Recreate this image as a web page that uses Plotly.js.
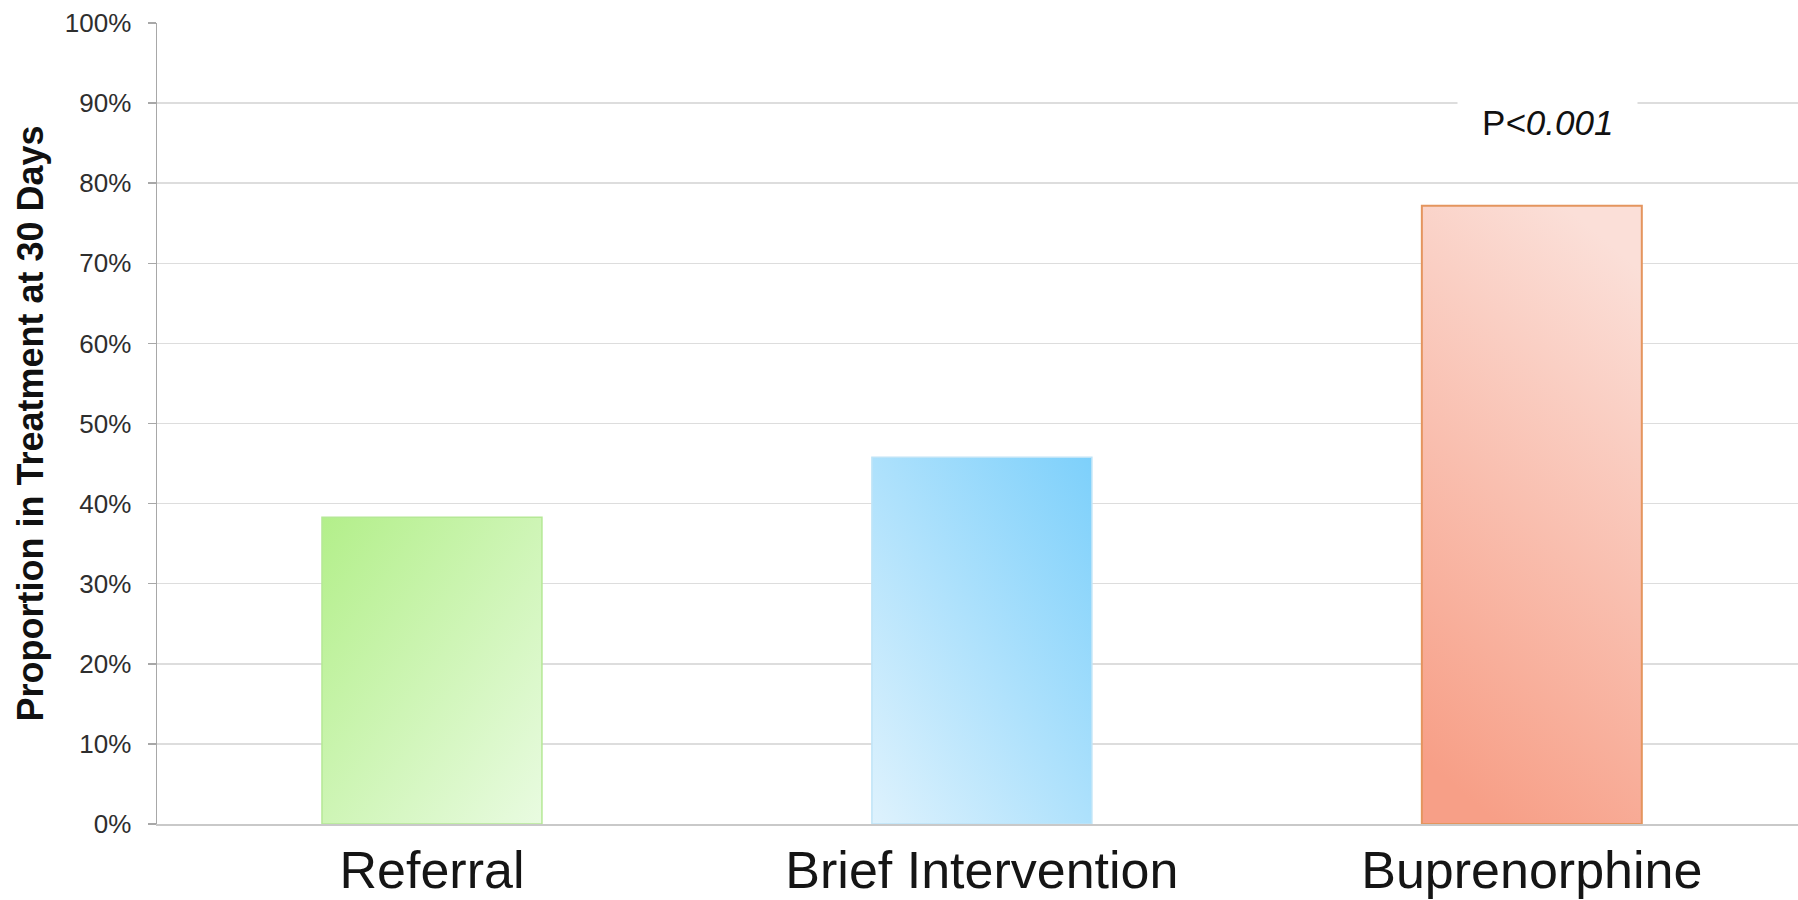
<!DOCTYPE html>
<html>
<head>
<meta charset="utf-8">
<script src="https://cdn.plot.ly/plotly-3.0.1.min.js"></script>
<style>
  html, body { margin: 0; padding: 0; background: #ffffff; }
  #chart { width: 1798px; height: 900px; }
</style>
</head>
<body>
<div id="chart"></div>
<script>
// ---- Data ----
const categories = ["Referral", "Brief Intervention", "Buprenorphine"];
const proportions = [0.383, 0.458, 0.772];
const yTitle = "Proportion in Treatment at 30 Days";
const pValueLabel = "P<i>&lt;0.001</i>";
const pValueCategory = "Buprenorphine";
const pValueY = 0.876;

// ---- Styles ----
const baseColors = ["#ccf4b0", "#ade0fb", "#f8bcab"];
const borderColors = ["#b5e896", "#bfe4f7", "#e4955e"];
const borderWidths = [1.5, 1.5, 2];
const gradients = [
  { x1: 0, y1: 0, x2: 1, y2: 1, stops: [["0%", "#b3ef8a"], ["100%", "#e9fbe1"]] },
  { x1: 0, y1: 1, x2: 1, y2: 0, stops: [["0%", "#def2fd"], ["100%", "#7dd0fb"]] },
  { x1: 0.35, y1: 1, x2: 0.65, y2: 0, stops: [["0%", "#f79f87"], ["100%", "#fbdfd8"]] }
];

// pick a condensed face for the category labels when one is installed
function fontAvailable(name) {
  const c = document.createElement("canvas").getContext("2d");
  const sample = "Brief Intervention 0123";
  c.font = "50px monospace";
  const w0 = c.measureText(sample).width;
  c.font = '50px "' + name + '", monospace';
  return c.measureText(sample).width !== w0;
}
const catFont = fontAvailable("Liberation Sans Narrow")
  ? { family: "Liberation Sans Narrow", size: 60, color: "#151515" }
  : { family: "Liberation Sans, Arial, sans-serif", size: 52, color: "#151515" };

const data = [{
  type: "bar",
  x: categories,
  y: proportions,
  width: 0.4,
  marker: {
    color: baseColors,
    line: { color: borderColors, width: borderWidths }
  },
  hoverinfo: "x+y"
}];

const layout = {
  width: 1798,
  height: 900,
  margin: { l: 157, r: 0, t: 23, b: 76 },
  paper_bgcolor: "#ffffff",
  plot_bgcolor: "#ffffff",
  showlegend: false,
  font: { family: "Liberation Sans, Arial, sans-serif", color: "#333333" },
  xaxis: {
    type: "category",
    range: [-0.5, 2.484],
    showgrid: false,
    showline: true,
    linecolor: "#c9c9c9",
    linewidth: 1.5,
    ticks: "",
    tickfont: catFont,
    ticklabelstandoff: 0,
    zeroline: false,
    automargin: false,
    fixedrange: true
  },
  yaxis: {
    range: [0, 1],
    dtick: 0.1,
    tick0: 0,
    tickformat: ".0%",
    showgrid: true,
    gridcolor: "#dddddd",
    gridwidth: 1.5,
    showline: true,
    linecolor: "#a8a8a8",
    linewidth: 1.5,
    ticks: "outside",
    ticklen: 8,
    tickwidth: 1.5,
    tickcolor: "#a8a8a8",
    tickfont: { family: "Liberation Sans, Arial, sans-serif", size: 26, color: "#2e2e2e" },
    ticklabelstandoff: 11,
    zeroline: false,
    automargin: false,
    title: {
      text: "<b>" + yTitle + "</b>",
      font: { family: "Liberation Sans, Arial, sans-serif", size: 36, color: "#111111" },
      standoff: 10
    },
    fixedrange: true
  },
  annotations: [{
    x: pValueCategory,
    y: pValueY,
    xref: "x",
    yref: "y",
    xshift: 16,
    text: pValueLabel,
    showarrow: false,
    xanchor: "center",
    yanchor: "middle",
    bgcolor: "#ffffff",
    borderpad: 24,
    font: { family: "Liberation Sans, Arial, sans-serif", size: 35, color: "#111111" }
  }]
};

const config = { displayModeBar: false, staticPlot: true };

function applyGradients(gd) {
  const NS = "http://www.w3.org/2000/svg";
  const svg = gd.querySelector("svg.main-svg");
  let defs = svg.querySelector("defs");
  if (!defs) { defs = document.createElementNS(NS, "defs"); svg.insertBefore(defs, svg.firstChild); }
  gradients.forEach((g, i) => {
    const lg = document.createElementNS(NS, "linearGradient");
    lg.setAttribute("id", "barGrad" + i);
    lg.setAttribute("x1", g.x1); lg.setAttribute("y1", g.y1);
    lg.setAttribute("x2", g.x2); lg.setAttribute("y2", g.y2);
    g.stops.forEach(s => {
      const st = document.createElementNS(NS, "stop");
      st.setAttribute("offset", s[0]);
      st.setAttribute("stop-color", s[1]);
      lg.appendChild(st);
    });
    defs.appendChild(lg);
  });
  const paths = gd.querySelectorAll(".barlayer .point path");
  paths.forEach((p, i) => {
    if (i < gradients.length) p.style.fill = "url(#barGrad" + i + ")";
  });
}

Plotly.newPlot("chart", data, layout, config).then(applyGradients);
</script>
</body>
</html>
